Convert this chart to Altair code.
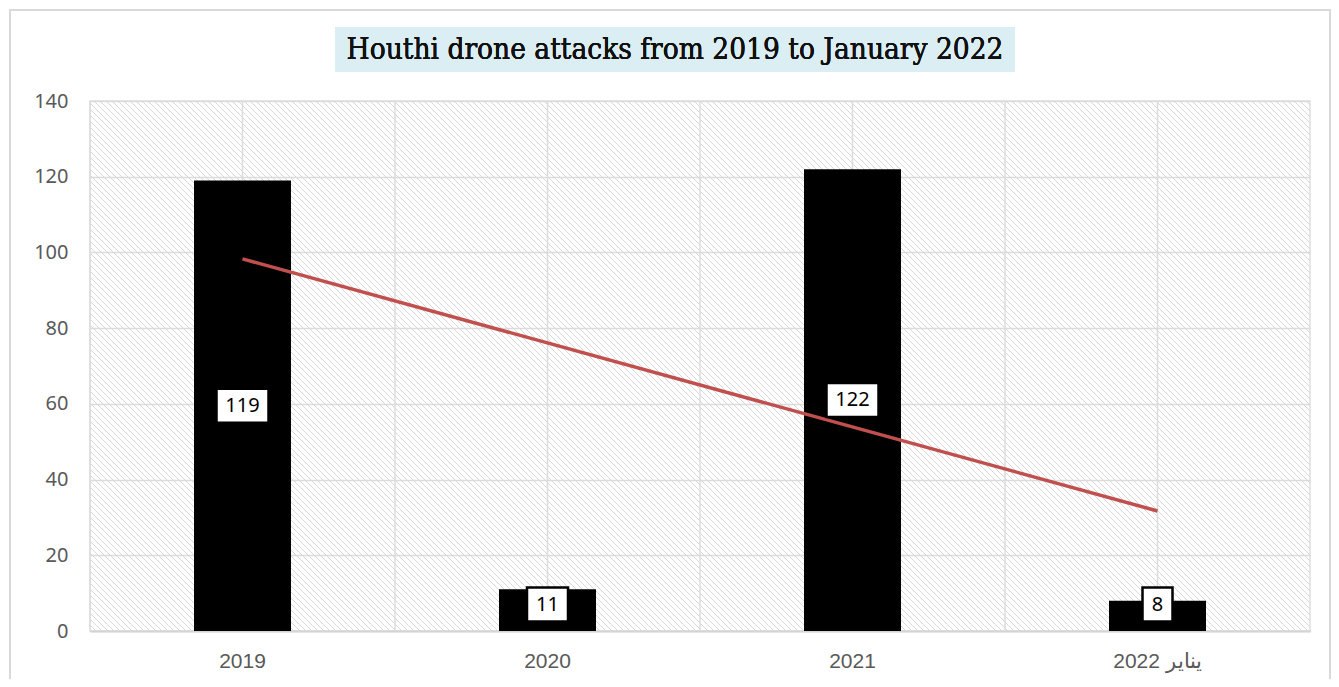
import altair as alt
import pandas as pd

# ---- data ----
categories = ["2019", "2020", "2021", "2022 يناير"]
attacks = [119, 11, 122, 8]
positions = [1, 2, 3, 4]
y_ticks = [0, 20, 40, 60, 80, 100, 120, 140]
TITLE = "Houthi drone attacks from 2019 to January 2022"

df = pd.DataFrame({"cat": categories, "v": attacks, "idx": positions})

W, H = 1220, 530
GRID = "#dcdcdc"

x_enc = alt.X(
    "cat:N",
    sort=categories,
    scale=alt.Scale(paddingInner=0, paddingOuter=0),
    axis=alt.Axis(
        title=None, labelAngle=0, ticks=False, grid=False,
        domain=True, domainColor="#d4d4d4", domainWidth=2,
        labelFont="Liberation Sans", labelFontSize=21, labelColor="#595959",
        labelPadding=19,
    ),
)
y_axis = alt.Axis(
    title=None, values=y_ticks, ticks=False, domain=False,
    grid=True, gridColor=GRID, gridWidth=1.5,
    labelFont="Noto Sans", labelFontSize=20, labelColor="#595959",
    labelPadding=22,
)
y_scale = alt.Scale(domain=[0, 140], nice=False)
y_enc = alt.Y("v:Q", scale=y_scale, axis=y_axis)

base = alt.Chart(df)

# diagonal hatch texture of the plot background (decoration)
hatch = (
    alt.Chart(alt.sequence(0, 300, as_="i"))
    .transform_calculate(x1=f"datum.i*6-{H}", x2f="datum.i*6", y1="0", y2f=str(H))
    .mark_rule(color="#d8d8d8", strokeWidth=1, clip=True)
    .encode(
        x=alt.X("x1:Q", scale=None, axis=None),
        x2="x2f:Q",
        y=alt.Y("y1:Q", scale=None, axis=None),
        y2="y2f:Q",
    )
)

center_rules = base.mark_rule(color=GRID, strokeWidth=1.5).encode(x=x_enc)
edge_rules = base.mark_rule(color=GRID, strokeWidth=1.5, xOffset=-W / 8).encode(x=x_enc)

bars = base.mark_bar(color="black", width=97).encode(x=x_enc, y=y_enc)

trend = (
    base.transform_regression("idx", "v", method="linear", extent=[1, 4])
    .transform_lookup(lookup="idx", from_=alt.LookupData(df, "idx", ["cat"]))
    .mark_line(color="#c0504d", strokeWidth=3.5)
    .encode(x=x_enc, y=alt.Y("v:Q", scale=y_scale, axis=y_axis))
)

label_base = base.transform_calculate(
    ly="max(datum.v/2, 7)",
    hw="(5.5*length(toString(datum.v))+9.5)/17",
    path="'M-'+datum.hw+',-1H'+datum.hw+'V1H-'+datum.hw+'Z'",
)
label_box = label_base.mark_point(
    filled=True, fill="white", stroke="black", strokeWidth=2.5, opacity=1, size=34 * 34
).encode(
    x=x_enc,
    y=alt.Y("ly:Q", scale=y_scale, axis=y_axis),
    shape=alt.Shape("path:N", scale=None, legend=None),
)
label_text = label_base.mark_text(
    font="Noto Sans", fontSize=20, color="black", baseline="middle", align="center"
).encode(x=x_enc, y=alt.Y("ly:Q", scale=y_scale, axis=y_axis), text=alt.Text("v:Q"))

title_box = base.mark_rect(color="#dbeef4").encode(
    x=alt.value(245), x2=alt.value(925), y=alt.value(-74), y2=alt.value(-29)
)
title_text = base.mark_text(
    text=TITLE, font="DejaVu Serif Condensed", fontSize=29.5, color="#111111",
    align="center", baseline="middle",
).encode(x=alt.value(585), y=alt.value(-51))

outer = base.mark_rect(fill=None, stroke="#d9d9d9", strokeWidth=2).encode(
    x=alt.value(-80), x2=alt.value(1240), y=alt.value(-91), y2=alt.value(640)
)

chart = (
    alt.layer(
        outer, title_box, title_text, hatch, center_rules, edge_rules,
        bars, trend, label_box, label_text,
    )
    .properties(
        width=W, height=H,
        autosize=alt.AutoSizeParams(type="none"),
        padding={"left": 82, "top": 93, "right": 21, "bottom": 48},
    )
    .configure_view(stroke="#e0e0e0", strokeWidth=1.5)
)

chart.save("out.html", embed_options={"renderer": "svg", "actions": False})
